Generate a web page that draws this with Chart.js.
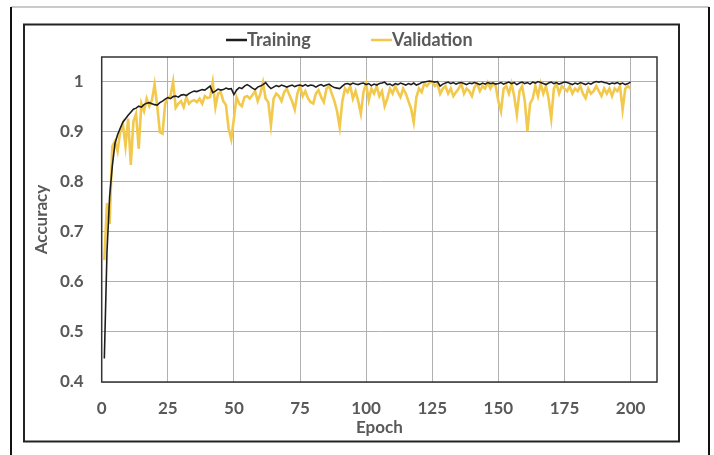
<!DOCTYPE html>
<html>
<head>
<meta charset="utf-8">
<script src="https://cdn.jsdelivr.net/npm/chart.js@4/dist/chart.umd.min.js"></script>
<style>
html,body{margin:0;padding:0;background:#fff;}
#wrap{position:relative;width:714px;height:455px;}
</style>
</head>
<body>
<div id="wrap"><canvas id="c" width="714" height="455"></canvas></div>
<script>
const seriesNames = ["Training", "Validation"];
const xTicks = [0, 25, 50, 75, 100, 125, 150, 175, 200];
const yTicks = [0.4, 0.5, 0.6, 0.7, 0.8, 0.9, 1];
const yTickLabels = ["0.4", "0.5", "0.6", "0.7", "0.8", "0.9", "1"];

// epochs 1..200
const training = [
0.447,0.66,0.77,0.83,0.875,0.893,0.906,0.918,0.925,0.932,
0.938,0.944,0.946,0.95,0.948,0.953,0.956,0.957,0.955,0.953,
0.952,0.957,0.96,0.964,0.967,0.965,0.969,0.97,0.968,0.972,
0.973,0.971,0.975,0.978,0.98,0.979,0.981,0.983,0.982,0.986,
0.99,0.977,0.98,0.984,0.982,0.983,0.986,0.984,0.985,0.973,
0.982,0.987,0.985,0.99,0.993,0.99,0.986,0.983,0.988,0.99,
0.993,0.997,0.99,0.985,0.988,0.991,0.989,0.992,0.99,0.988,
0.99,0.992,0.989,0.991,0.992,0.99,0.993,0.99,0.992,0.991,
0.988,0.991,0.993,0.99,0.992,0.994,0.99,0.987,0.986,0.985,
0.99,0.994,0.995,0.993,0.996,0.994,0.993,0.995,0.996,0.993,
0.995,0.991,0.994,0.992,0.995,0.996,0.998,0.993,0.994,0.991,
0.995,0.993,0.996,0.994,0.992,0.995,0.993,0.996,0.992,0.994,
0.997,0.998,0.999,1.0,0.999,0.998,0.999,0.99,0.994,0.996,
0.998,0.995,0.997,0.994,0.996,0.997,0.995,0.993,0.996,0.995,
0.997,0.995,0.993,0.996,0.994,0.997,0.995,0.996,0.994,0.995,
0.997,0.994,0.996,0.998,0.995,0.997,0.993,0.996,0.998,0.995,
0.997,0.994,0.998,0.996,0.999,0.997,0.995,0.993,0.996,0.998,
0.995,0.997,0.994,0.996,0.998,0.997,0.995,0.993,0.996,0.994,
0.997,0.995,0.993,0.996,0.994,0.997,0.999,0.998,0.999,0.997,
0.996,0.994,0.996,0.995,0.997,0.994,0.996,0.993,0.995,0.998
];
const validation = [
0.643,0.757,0.715,0.87,0.88,0.86,0.9,0.915,0.87,0.925,
0.833,0.92,0.935,0.865,0.955,0.94,0.965,0.95,0.962,0.993,
0.95,0.898,0.895,0.955,0.966,0.97,0.999,0.947,0.955,0.96,
0.948,0.968,0.955,0.96,0.962,0.958,0.965,0.955,0.97,0.966,
0.968,0.998,0.948,0.975,0.978,0.96,0.952,0.905,0.884,0.925,
0.968,0.955,0.95,0.968,0.97,0.965,0.972,0.98,0.96,0.975,
0.997,0.965,0.958,0.912,0.965,0.975,0.97,0.96,0.978,0.985,
0.972,0.96,0.943,0.975,0.99,0.97,0.98,0.966,0.958,0.955,
0.975,0.982,0.968,0.958,0.985,0.99,0.975,0.96,0.94,0.908,
0.96,0.985,0.978,0.99,0.965,0.98,0.96,0.935,0.978,0.995,
0.962,0.985,0.975,0.99,0.97,0.98,0.95,0.965,0.985,0.975,
0.99,0.978,0.968,0.985,0.975,0.96,0.945,0.918,0.968,0.985,
0.978,0.995,0.99,0.997,0.998,0.99,0.995,0.975,0.985,0.99,
0.975,0.985,0.97,0.978,0.985,0.995,0.975,0.985,0.98,0.97,
0.988,0.995,0.98,0.99,0.985,0.997,0.985,0.995,0.99,0.96,
0.94,0.985,0.99,0.975,0.995,0.97,0.933,0.98,0.99,0.96,
0.9,0.955,0.965,0.99,0.97,0.995,0.975,0.99,0.965,0.925,
0.985,0.995,0.975,0.99,0.985,0.98,0.99,0.975,0.985,0.98,
0.99,0.975,0.966,0.985,0.975,0.98,0.99,0.98,0.97,0.985,
0.975,0.985,0.97,0.985,0.98,0.99,0.943,0.985,0.99,0.985
];
const epochs = training.map((_, i) => i + 1);

const TEXT = '#595959';
const FONT = 'Lato, "Open Sans", sans-serif';
const colors = ['#1e1e1e', '#F2C94C'];

const framePlugin = {
  id: 'frame',
  beforeDraw(chart) {
    const ctx = chart.ctx;
    ctx.save();
    ctx.fillStyle = '#fff';
    ctx.fillRect(0, 0, chart.width, chart.height);
    ctx.strokeStyle = '#b8b8b8';
    ctx.lineWidth = 1.5;
    ctx.beginPath(); ctx.moveTo(11, 7); ctx.lineTo(709, 7); ctx.stroke();
    ctx.strokeStyle = '#111';
    ctx.lineWidth = 2;
    ctx.beginPath(); ctx.moveTo(11, 7); ctx.lineTo(11, 455); ctx.stroke();
    ctx.beginPath(); ctx.moveTo(709, 7); ctx.lineTo(709, 455); ctx.stroke();
    ctx.strokeStyle = '#222';
    ctx.lineWidth = 2;
    ctx.strokeRect(24, 24.5, 655, 417);
    ctx.restore();
  },
  afterDatasetsDraw(chart) {
    const {ctx, chartArea: a} = chart;
    ctx.save();
    ctx.strokeStyle = '#333';
    ctx.lineWidth = 1.5;
    ctx.strokeRect(a.left, a.top, a.right - a.left, a.bottom - a.top);
    ctx.restore();
  },
  afterDraw(chart) {
    const ctx = chart.ctx;
    ctx.save();
    ctx.font = 'bold 18px ' + FONT;
    ctx.textBaseline = 'middle';
    ctx.textAlign = 'left';
    const items = [{x: 226, i: 0}, {x: 371, i: 1}];
    items.forEach(it => {
      const ds = chart.data.datasets[it.i];
      ctx.strokeStyle = ds.borderColor;
      ctx.lineWidth = 2.5;
      ctx.beginPath(); ctx.moveTo(it.x, 40); ctx.lineTo(it.x + 21, 40); ctx.stroke();
      ctx.fillStyle = TEXT;
      ctx.fillText(ds.label, it.x + 21, 40);
    });
    ctx.restore();
  }
};

new Chart(document.getElementById('c'), {
  type: 'line',
  data: {
    datasets: [
      {
        label: seriesNames[0],
        data: epochs.map((e, i) => ({x: e, y: training[i]})),
        borderColor: colors[0],
        borderWidth: 1.6,
        pointRadius: 0,
        tension: 0,
        order: 0
      },
      {
        label: seriesNames[1],
        data: epochs.map((e, i) => ({x: e, y: validation[i]})),
        borderColor: colors[1],
        borderWidth: 2.6,
        pointRadius: 0,
        tension: 0,
        order: 1
      }
    ]
  },
  options: {
    responsive: false,
    animation: false,
    devicePixelRatio: 1,
    layout: {padding: {left: 24, right: 57, top: 57, bottom: 13}},
    plugins: {legend: {display: false}, tooltip: {enabled: false}},
    scales: {
      x: {
        type: 'linear',
        min: 0,
        max: 210,
        afterBuildTicks(s) { s.ticks = xTicks.map(v => ({value: v})); },
        afterFit(s) { s.height = 60; },
        grid: {color: '#b0b0b0', lineWidth: 1, drawTicks: false},
        border: {display: false},
        ticks: {
          padding: 16,
          color: TEXT,
          font: {family: FONT, size: 17, weight: 'bold'},
          maxRotation: 0
        },
        title: {
          display: true, text: 'Epoch', color: TEXT,
          font: {family: FONT, size: 17, weight: 'bold'},
          padding: {top: 0, bottom: 4}
        }
      },
      y: {
        min: 0.4,
        max: 1.048,
        afterBuildTicks(s) { s.ticks = yTicks.map(v => ({value: v})); },
        afterFit(s) { s.width = 77.7; },
        grid: {color: '#b0b0b0', lineWidth: 1, drawTicks: false},
        border: {display: false},
        ticks: {
          padding: 18,
          color: TEXT,
          font: {family: FONT, size: 17, weight: 'bold'},
          callback: (v) => { const k = yTicks.indexOf(v); return k >= 0 ? yTickLabels[k] : ''; }
        },
        title: {
          display: true, text: 'Accuracy', color: TEXT,
          font: {family: FONT, size: 17, weight: 'bold'},
          padding: {top: 7, bottom: 0}
        }
      }
    }
  },
  plugins: [framePlugin]
});
</script>
</body>
</html>
